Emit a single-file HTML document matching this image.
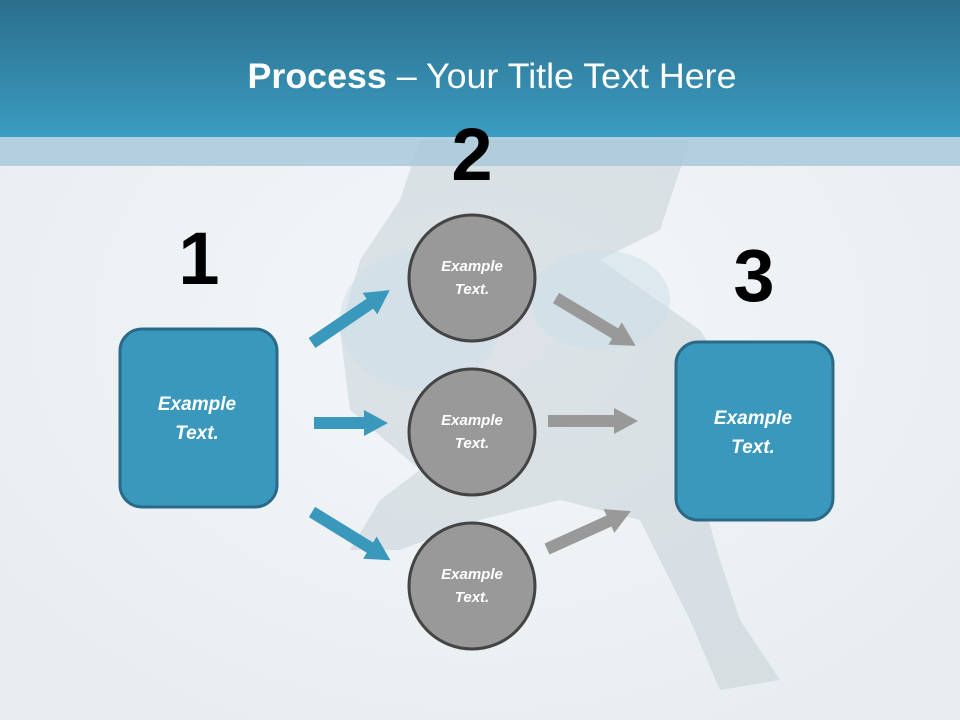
<!DOCTYPE html>
<html><head><meta charset="utf-8"><style>html,body{margin:0;padding:0;background:#eef2f4}svg{display:block}</style></head>
<body>
<svg width="960" height="720" viewBox="0 0 960 720" xmlns="http://www.w3.org/2000/svg" font-family="Liberation Sans, sans-serif">
<defs>
<linearGradient id="hd" x1="0" y1="0" x2="0" y2="1"><stop offset="0" stop-color="#2b6e8c"/><stop offset="1" stop-color="#3b9cc1"/></linearGradient>
<radialGradient id="bg" cx="0.5" cy="0.45" r="0.7"><stop offset="0" stop-color="#f4f7f9"/><stop offset="1" stop-color="#e6ecef"/></radialGradient>
</defs>
<rect width="960" height="720" fill="url(#bg)"/>
<g fill="#b9c6cd" opacity="0.4">
<path d="M420 140 L690 140 L660 230 L600 260 L700 330 L760 420 L700 490 L720 560 L740 620 L780 680 L720 690 L690 620 L640 520 L560 500 L480 520 L400 550 L350 550 L380 500 L420 470 L350 410 L340 330 L360 260 L400 200 Z"/>
</g>
<g fill="#c9dde8" opacity="0.5"><ellipse cx="420" cy="320" rx="80" ry="70"/><ellipse cx="600" cy="300" rx="70" ry="50"/></g>
<rect x="0" y="0" width="960" height="137" fill="url(#hd)"/>
<rect x="0" y="137" width="960" height="29" fill="#a9c9da" opacity="0.85"/>
<text x="492" y="88" text-anchor="middle" fill="#fff" font-size="35" textLength="489" lengthAdjust="spacingAndGlyphs"><tspan font-weight="bold">Process</tspan> – Your Title Text Here</text>
<g font-weight="bold" font-size="74" text-anchor="middle" fill="#000">
<text x="199" y="284">1</text><text x="472" y="180">2</text><text x="754" y="301">3</text>
</g>
<rect x="120" y="329" width="157" height="178" rx="22" fill="#3a98bc" stroke="#2a6a88" stroke-width="3"/>
<rect x="676" y="342" width="157" height="178" rx="22" fill="#3a98bc" stroke="#2a6a88" stroke-width="3"/>
<g fill="#999" stroke="#444" stroke-width="3">
<circle cx="472" cy="278" r="63"/><circle cx="472" cy="432" r="63"/><circle cx="472" cy="586" r="63"/>
</g>
<g fill="#fff" font-style="italic" font-weight="bold" text-anchor="middle" font-size="15">
<text x="472" y="271">Example</text><text x="472" y="294">Text.</text>
<text x="472" y="425">Example</text><text x="472" y="448">Text.</text>
<text x="472" y="579">Example</text><text x="472" y="602">Text.</text>
</g>
<g fill="#fff" font-style="italic" font-weight="bold" text-anchor="middle" font-size="19">
<text x="197" y="410">Example</text><text x="197" y="439">Text.</text>
<text x="753" y="424">Example</text><text x="753" y="453">Text.</text>
</g>
<g fill="#3a98bc">
<path transform="translate(312,343) rotate(-34.2)" d="M0 -6 H70 V-13 L94 0 L70 13 V6 H0 Z"/>
<path transform="translate(314,423)" d="M0 -6 H50 V-13 L74 0 L50 13 V6 H0 Z"/>
<path transform="translate(312,512) rotate(31.6)" d="M0 -6 H68 V-13 L92 0 L68 13 V6 H0 Z"/>
</g>
<g fill="#999">
<path transform="translate(556,298) rotate(31)" d="M0 -6 H69 V-13 L93 0 L69 13 V6 H0 Z"/>
<path transform="translate(548,421)" d="M0 -6 H66 V-13 L90 0 L66 13 V6 H0 Z"/>
<path transform="translate(547,549) rotate(-24.3)" d="M0 -6 H68 V-13 L92 0 L68 13 V6 H0 Z"/>
</g>
</svg>
</body></html>
